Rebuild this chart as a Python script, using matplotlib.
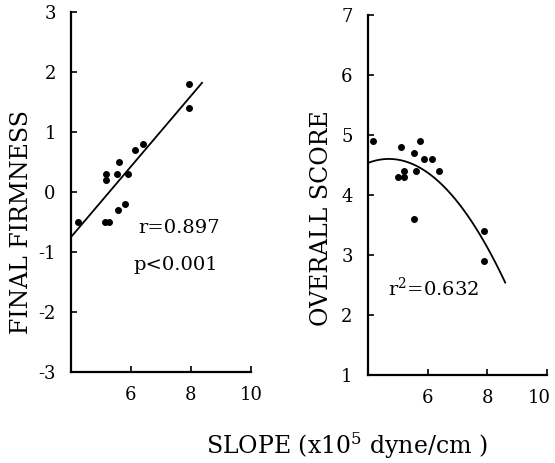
import numpy as np
import matplotlib.pyplot as plt
from matplotlib.transforms import ScaledTranslation

plt.rcParams['font.family'] = ['DejaVu Serif']
plt.rcParams['mathtext.fontset'] = 'dejavuserif'
plt.rcParams['axes.unicode_minus'] = False

# panel izquierdo: firmeza final vs pendiente
slope_a = [4.22, 5.12, 5.28, 5.17, 5.17, 5.6, 5.55, 5.9, 5.57, 5.8, 6.13, 6.4, 7.95, 7.95]
firm = [-0.5, -0.5, -0.5, 0.3, 0.2, 0.5, 0.3, 0.3, -0.3, -0.2, 0.7, 0.8, 1.8, 1.4]
fit_x = [4.0, 8.37]
fit_y = [-0.75, 1.82]

# panel derecho: puntaje global vs pendiente
slope_b = [4.18, 5.1, 5.73, 5.53, 5.89, 6.14, 5.0, 5.22, 5.22, 5.6, 6.39, 5.53, 7.88, 7.9]
score = [4.9, 4.8, 4.9, 4.7, 4.6, 4.6, 4.3, 4.3, 4.4, 4.4, 4.4, 3.6, 3.4, 2.9]
quad = [-0.1355, 1.274, 1.607]   # coeficientes de la curva
curve_range = [4.0, 8.6]

xticks = [6, 8, 10]


def estilo(ax, ylim, yticks):
    ax.set_xlim(4, 10)
    ax.set_ylim(*ylim)
    ax.set_xticks(xticks)
    ax.set_yticks(yticks)
    for s in ['top', 'right']:
        ax.spines[s].set_visible(False)
    for s in ['left', 'bottom']:
        ax.spines[s].set_linewidth(1.6)
    ax.tick_params(direction='in', length=4, width=1.2, labelsize=13)
    ax.tick_params(axis='x', pad=10)
    ax.tick_params(axis='y', pad=11)


fig = plt.figure(figsize=(5.55, 4.63), dpi=100)

ax1 = fig.add_axes([0.128, 0.1965, 0.324, 0.7775])
ax1.plot(slope_a, firm, 'o', color='black', ms=4)
ax1.plot(fit_x, fit_y, color='black', lw=1.3)
estilo(ax1, (-3, 3), [-3, -2, -1, 0, 1, 2, 3])
ax1.text(6.23, -0.6, 'r=0.897', fontsize=14, va='center')
ax1.text(6.07, -1.22, 'p<0.001', fontsize=14, va='center')

ax2 = fig.add_axes([0.663, 0.190, 0.3225, 0.7775])
ax2.plot(slope_b, score, 'o', color='black', ms=4)
xc = np.linspace(curve_range[0], curve_range[1], 100)
ax2.plot(xc, np.polyval(quad, xc), color='black', lw=1.3)
estilo(ax2, (1, 7), [1, 2, 3, 4, 5, 6, 7])
ax2.text(4.67, 2.45, 'r$^2$=0.632', fontsize=14, va='center')

# el "10" del panel derecho queda pegado al borde
fig.canvas.draw()
lbl = ax2.get_xticklabels()[-1]
lbl.set_transform(lbl.get_transform() + ScaledTranslation(-0.08, 0, fig.dpi_scale_trans))

fig.text(0.0396, 0.5205, 'FINAL FIRMNESS', rotation=90, ha='center', va='center', fontsize=17)
fig.text(0.580, 0.528, 'OVERALL SCORE', rotation=90, ha='center', va='center', fontsize=17)
fig.text(0.624, 0.037, 'SLOPE (x10$^5$ dyne/cm )', ha='center', va='center', fontsize=17)

fig.savefig('out.png', dpi=100)
